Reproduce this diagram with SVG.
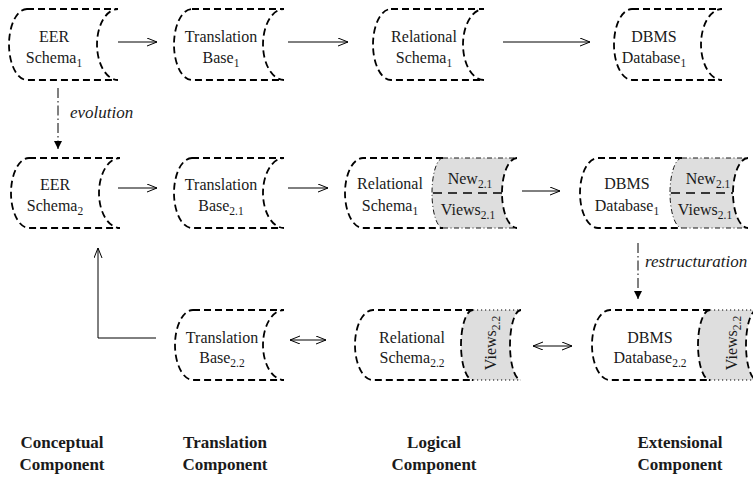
<svg xmlns="http://www.w3.org/2000/svg" width="753" height="478" viewBox="0 0 753 478">
<style>
.bd{fill:none;stroke:#000;stroke-width:1.8;stroke-dasharray:7 4}
.wf{fill:#fff;stroke:none}
.gf{fill:#dedede;stroke:none}
.th{fill:none;stroke:#000;stroke-width:0.9;stroke-dasharray:5 2.5 1 2.5}
.dt{fill:none;stroke:#000;stroke-width:1;stroke-dasharray:1.2 2.8}
.dv{fill:none;stroke:#000;stroke-width:1.3;stroke-dasharray:9 6}
.ln{fill:none;stroke:#000;stroke-width:1}
.dd{fill:none;stroke:#000;stroke-width:1;stroke-dasharray:10 3 1.5 3}
.t{font-family:"Liberation Serif","Times New Roman",serif;font-size:16px;text-anchor:middle;fill:#1a1a1a}
.s{font-size:11.5px}
.i{font-family:"Liberation Serif","Times New Roman",serif;font-size:17px;font-style:italic;fill:#1a1a1a}
.b{font-family:"Liberation Serif","Times New Roman",serif;font-size:17px;font-weight:bold;text-anchor:middle;fill:#1a1a1a}
</style>
<defs>
<marker id="op" markerWidth="12" markerHeight="10" refX="10" refY="4" orient="auto-start-reverse" markerUnits="userSpaceOnUse"><path d="M0,0 L10,4 L0,8" fill="none" stroke="#000" stroke-width="1"/></marker>
<marker id="fl" markerWidth="10" markerHeight="10" refX="8" refY="4" orient="auto" markerUnits="userSpaceOnUse"><path d="M0,0 L8,4 L0,8 Z" fill="#000"/></marker>
</defs>
<rect width="753" height="478" fill="#fff"/>

<g id="connectors">
<line class="ln" x1="118" y1="42" x2="157" y2="42" marker-end="url(#op)"/>
<line class="ln" x1="288" y1="42" x2="348" y2="42" marker-end="url(#op)"/>
<line class="ln" x1="503" y1="42" x2="590" y2="42" marker-end="url(#op)"/>
<line class="ln" x1="118" y1="188" x2="157" y2="188" marker-end="url(#op)"/>
<line class="ln" x1="288" y1="188" x2="328" y2="188" marker-end="url(#op)"/>
<line class="ln" x1="522" y1="191" x2="560" y2="191" marker-end="url(#op)"/>
<line class="dd" x1="58" y1="88" x2="58" y2="149" marker-end="url(#fl)"/>
<line class="dd" x1="638" y1="243" x2="638" y2="299" marker-end="url(#fl)"/>
<polyline class="ln" points="156,338 98,338 98,248" marker-end="url(#op)"/>
<line class="ln" x1="290" y1="340" x2="326" y2="340" marker-start="url(#op)" marker-end="url(#op)"/>
<line class="ln" x1="533" y1="346" x2="572" y2="346" marker-start="url(#op)" marker-end="url(#op)"/>
<text class="i" x="70" y="118">evolution</text>
<text class="i" x="645" y="267">restructuration</text>
</g>

<g id="eer1">
<path class="bd" d="M27,9 H118 A21,35.5 0 0 0 118,80 H27 A18,35.5 0 0 1 27,9 Z"/>
<text class="t" x="54" y="42">EER</text>
<text class="t" x="54" y="63">Schema<tspan class="s" dy="4">1</tspan></text>
</g>
<g id="tb1">
<path class="bd" d="M192,9 H284 A21,35.5 0 0 0 284,80 H192 A18,35.5 0 0 1 192,9 Z"/>
<text class="t" x="221" y="42">Translation</text>
<text class="t" x="221" y="63">Base<tspan class="s" dy="4">1</tspan></text>
</g>
<g id="rs1">
<path class="bd" d="M391,9 H484 A21,35.5 0 0 0 484,80 H391 A18,35.5 0 0 1 391,9 Z"/>
<text class="t" x="424" y="42">Relational</text>
<text class="t" x="424" y="63">Schema<tspan class="s" dy="4">1</tspan></text>
</g>
<g id="db1">
<path class="bd" d="M632,9 H722 A21,35.5 0 0 0 722,80 H632 A18,35.5 0 0 1 632,9 Z"/>
<text class="t" x="654" y="42">DBMS</text>
<text class="t" x="654" y="63">Database<tspan class="s" dy="4">1</tspan></text>
</g>

<g id="eer2">
<path class="bd" d="M29,158 H120 A21,35 0 0 0 120,228 H29 A18,35 0 0 1 29,158 Z"/>
<text class="t" x="55" y="190">EER</text>
<text class="t" x="55" y="211">Schema<tspan class="s" dy="4">2</tspan></text>
</g>
<g id="tb21">
<path class="bd" d="M192,158 H284 A21,35 0 0 0 284,228 H192 A18,35 0 0 1 192,158 Z"/>
<text class="t" x="221" y="190">Translation</text>
<text class="t" x="221" y="211">Base<tspan class="s" dy="4">2.1</tspan></text>
</g>
<g id="rs21">
<path class="gf" d="M443,158 H517 A15,35 0 0 0 517,228 H443 A11,35 0 0 1 443,158 Z"/>
<path class="bd" d="M443,158 H363 A18,35 0 0 0 363,228 H443"/>
<path class="th" d="M443,158 A11,35 0 0 0 443,228 M443,158 H517 M443,228 H517"/>
<path class="bd" d="M517,158 A15,35 0 0 0 517,228"/>
<path class="dv" d="M433,193 H502"/>
<text class="t" x="390" y="189">Relational</text>
<text class="t" x="390" y="211">Schema<tspan class="s" dy="4">1</tspan></text>
<text class="t" x="470" y="184">New<tspan class="s" dy="4">2.1</tspan></text>
<text class="t" x="468" y="215">Views<tspan class="s" dy="4">2.1</tspan></text>
</g>
<g id="db21">
<path class="gf" d="M682,158 H748 A15,35 0 0 0 748,228 H682 A12,35 0 0 1 682,158 Z"/>
<path class="bd" d="M682,158 H598 A18,35 0 0 0 598,228 H682"/>
<path class="th" d="M682,158 A12,35 0 0 0 682,228 M682,158 H748 M682,228 H748"/>
<path class="bd" d="M748,158 A15,35 0 0 0 748,228"/>
<path class="dv" d="M671,193 H733"/>
<text class="t" x="627" y="189">DBMS</text>
<text class="t" x="627" y="211">Database<tspan class="s" dy="4">1</tspan></text>
<text class="t" x="708" y="184">New<tspan class="s" dy="4">2.1</tspan></text>
<text class="t" x="705" y="215">Views<tspan class="s" dy="4">2.1</tspan></text>
</g>

<g id="tb22">
<path class="bd" d="M193,310 H284 A21,35 0 0 0 284,380 H193 A18,35 0 0 1 193,310 Z"/>
<text class="t" x="222" y="343">Translation</text>
<text class="t" x="222" y="363">Base<tspan class="s" dy="4">2.2</tspan></text>
</g>
<g id="rs22">
<path class="gf" d="M473,310 H521 A11,35 0 0 0 521,380 H473 A12,35 0 0 1 473,310 Z"/>
<path class="bd" d="M473,310 H373 A18,35 0 0 0 373,380 H473 M473,310 A12,35 0 0 0 473,380"/>
<path class="dt" d="M473,310 H521 M473,380 H521"/>
<path class="bd" d="M521,310 A11,35 0 0 0 521,380"/>
<text class="t" x="412" y="343">Relational</text>
<text class="t" x="412" y="363">Schema<tspan class="s" dy="4">2.2</tspan></text>
<text class="t" transform="translate(496,343) rotate(-90)">Views<tspan class="s" dy="4">2.2</tspan></text>
</g>
<g id="db22">
<path class="gf" d="M710,310 H757 A11,35 0 0 0 757,380 H710 A12,35 0 0 1 710,310 Z"/>
<path class="bd" d="M710,310 H610 A18,35 0 0 0 610,380 H710 M710,310 A12,35 0 0 0 710,380"/>
<path class="dt" d="M710,310 H757 M710,380 H757"/>
<path class="bd" d="M757,310 A11,35 0 0 0 757,380"/>
<text class="t" x="650" y="343">DBMS</text>
<text class="t" x="650" y="363">Database<tspan class="s" dy="4">2.2</tspan></text>
<text class="t" transform="translate(737,343) rotate(-90)">Views<tspan class="s" dy="4">2.2</tspan></text>
</g>

<g id="labels">
<text class="b" x="62" y="448">Conceptual</text>
<text class="b" x="62" y="470">Component</text>
<text class="b" x="225" y="448">Translation</text>
<text class="b" x="225" y="470">Component</text>
<text class="b" x="434" y="448">Logical</text>
<text class="b" x="434" y="470">Component</text>
<text class="b" x="680" y="448">Extensional</text>
<text class="b" x="680" y="470">Component</text>
</g>
</svg>
